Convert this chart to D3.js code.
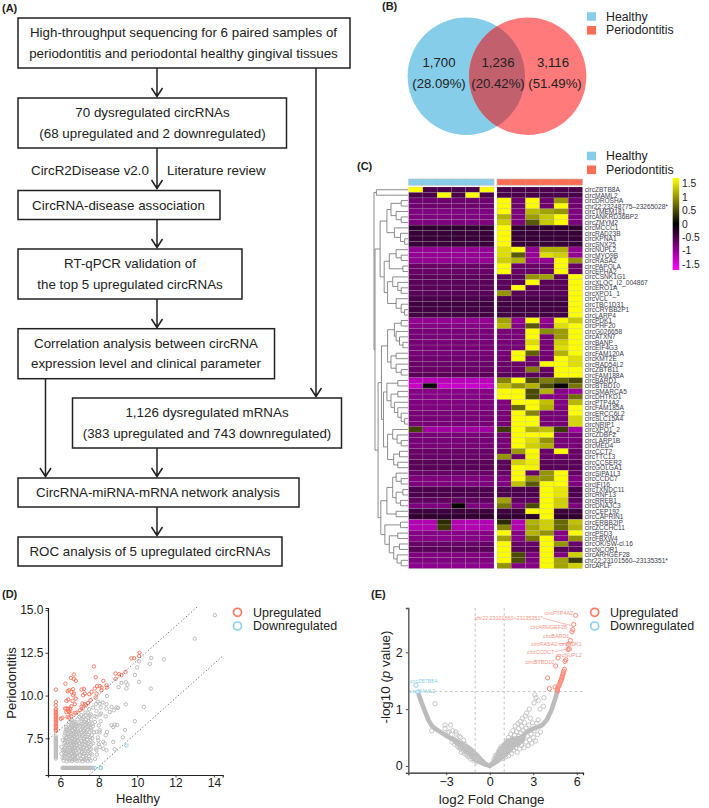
<!DOCTYPE html>
<html><head><meta charset="utf-8">
<script src="https://cdn.jsdelivr.net/npm/d3@7"></script>
<style>html,body{margin:0;padding:0;background:#fff}svg{display:block}text{font-family:"Liberation Sans",Arial,sans-serif}</style>
</head><body><svg id="c" width="709" height="808"></svg>
<script>
// ---------- DATA ----------
const flowTexts = [
 ["High-throughput sequencing for 6 paired samples of","periodontitis and periodontal healthy gingival tissues"],
 ["70 dysregulated circRNAs","(68 upregulated and 2 downregulated)"],
 ["CircRNA-disease association"],
 ["RT-qPCR validation of","the top 5 upregulated circRNAs"],
 ["Correlation analysis between circRNA","expression level and clinical parameter"],
 ["1,126 dysregulated mRNAs","(383 upregulated and 743 downregulated)"],
 ["CircRNA-miRNA-mRNA network analysis"],
 ["ROC analysis of 5 upregulated circRNAs"]];
const vennCounts = ["1,700","1,236","3,116"];
const vennShares = ["(28.09%)","(20.42%)","(51.49%)"];
const groups = ["Healthy","Periodontitis"];
const regulation = ["Upregulated","Downregulated"];
const circNames = ["circZBTB8A","circMAML2","circDROSHA","chr22:23248775\u201323265028*","circTMEM181","circANKRD36BP2","circZMYM2","circMCCC1","circRAD23B","circKPNA1","circSNX25","circNUPL2","circMYO9B","circRASA2","circPAPOLA","circEPHA2","circCSNK1G1","circXLOC_I2_004867","circERO1A","circXPO1_1","circVCL","circTBC1D31","circCRYBB2P1","circLARP4","circPDK1","circPHF20","circG026658","circATXN7","circBANP","circEIF4G3","circFAM120A","circKMT2E","circRAD54L2","circZBTB11","circFAM188A","circBARD1","circBTBD10","circSMARCA5","circDHTKD1","circPTP4A2","circFAM185A","circERCC6L2","circSLC15A4","circNRIP1","circXPO1_2","circZDBF2","circLARP1B","circMED4","circCCT2","circTTC13","circCCSER2","circGOLGA1","circSIPA1L3","circCCDC7","circIFI16","circTXNDC11","circRNF13","circRREB1","circDNAJC3","circCEP192","circCAPRIN1","circERBB2IP","circZCCHC11","circPSD3","circFBXW4","circOK/SW-cl.16","circNCOR1","circARHGEF28","chr22:23101560\u201323135351*","circAPLF"];
const healthyExpr = [
[1.7,-.5,-.5,-.5,-.5,1.7],[-.5,-.5,1.7,-.5,1.7,-.5],[-.75,-.75,-.75,-.75,-.75,-.75],[-.75,-.75,-.75,-.75,-.75,-.75],[-.85,-.85,-.85,-.85,-.85,-.85],[-.85,-.85,-.85,-.85,-.85,-.85],[-.85,-.85,-.85,-.85,-.85,-.85],
[-.32,-.32,-.32,-.32,-.32,-.32],[-.38,-.38,-.38,-.38,-.38,-.38],[-.38,-.38,-.38,-.38,-.38,-.38],[-.38,-.38,-.38,-.38,-.38,-.38],
[-1,-1,-1,-1,-1,-1],[-1,-1,-1,-1,-1,-1],[-1,-1,-1,-1,-1,-1],[-.7,-.7,-.7,-.7,-.7,-.7],[-.7,-.7,-.7,-.7,-.7,-.7],
[-.62,-.62,-.62,-.62,-.62,-.62],[-.6,-.6,-.6,-.6,-.6,-.6],[-.6,-.6,-.6,-.6,-.6,-.6],[-.6,-.6,-.6,-.6,-.6,-.6],[-.5,-.5,-.5,-.5,-.5,-.5],[-.42,-.42,-.42,-.42,-.42,-.42],[-.45,-.45,-.45,-.45,-.45,-.45],[-.45,-.45,-.45,-.45,-.45,-.45],
[-1,-1,-1,-1,-1,-1],[-.9,-.9,-.9,-.9,-.9,-.9],[-.8,-.8,-.8,-.8,-.8,-.8],[-.8,-.8,-.8,-.8,-.8,-.8],[-.8,-.8,-.8,-.8,-.8,-.8],[-.8,-.8,-.8,-.8,-.8,-.8],[-.8,-.8,-.8,-.8,-.8,-.8],[-.75,-.75,-.75,-.75,-.75,-.75],[-.7,-.7,-.7,-.7,-.7,-.7],[-.7,-.7,-.7,-.7,-.7,-.7],[-.6,-.6,-.6,-.6,-.6,-.6],
[-1.25,-1.25,-1.25,-1.25,-1.25,-1.25],[-1.35,.05,-1.35,-1.35,-1.35,-1.35],[-.9,-.9,-.9,-.9,-.9,-.9],[-.9,-.9,-.9,-.9,-.9,-.9],[-.85,-.85,-.85,-.85,-.85,-.85],[-.85,-.85,-.85,-.85,-.85,-.85],[-.8,-.8,-.8,-.8,-.8,-.8],[-.8,-.8,-.8,-.8,-.8,-.8],[-.8,-.8,-.8,-.8,-.8,-.8],
[.45,-1.1,-1.1,-1.1,-1.1,-1.1],[-.8,-.8,-.8,-.8,-.8,-.8],[-.8,-.8,-.8,-.8,-.8,-.8],[-.8,-.8,-.8,-.8,-.8,-.8],[-.7,-.7,-.7,-.7,-.7,-.7],[-.7,-.7,-.7,-.7,-.7,-.7],[-.6,-.6,-.6,-.6,-.6,-.6],[-.6,-.6,-.6,-.6,-.6,-.6],
[-.7,-.7,-.7,-.7,-.7,-.7],[-.85,-.85,-.85,-.85,-.85,-.85],[-.85,-.85,-.85,-.85,-.85,-.85],[-.52,-.52,-.52,-.52,-.52,-.52],[-.52,-.52,-.52,-.52,-.52,-.52],[-.65,-.65,-.65,-.65,-.65,-.65],[-.85,-.85,-.85,.02,-.85,-.85],[-.42,-.42,-.42,-.42,-.42,-.42],[-.32,-.32,-.32,-.32,-.32,-.32],
[-1.2,-1.2,.3,-1.2,-1.2,-1.2],[-1.2,-1.2,.4,-1.2,-1.2,-1.2],[-.9,-.9,-.9,-.9,-.9,-.9],[-.9,-.9,-.9,-.9,-.9,-.9],[-.7,-.7,-.7,-.7,-.7,-.7],[-.6,-.6,-.6,-.6,-.6,-.6],[-.85,-.85,-.85,-.85,-.85,-.85],[-.85,-.85,-.85,-.85,-.85,-.85],[-.95,-.95,-.95,-.95,-.95,-.95]];
const periodontitisExpr = [
[-.5,-.5,-.5,-.5,-.5,-.5],[-.5,-.5,-.5,-.5,-.5,-.5],[1.7,-.75,1.7,-.75,1.05,-.75],[1.7,-.75,1.7,-.75,1.7,-.75],[1.7,-.85,1.25,1.1,1.0,-.85],[1.2,-.85,1.05,1.35,1.7,-.85],[1.4,-.85,.6,1.35,1.7,-.85],
[1.7,-.32,-.32,-.32,-.32,-.32],[1.7,-.38,-.38,-.38,-.38,-.38],[1.7,-.38,-.38,-.38,-.38,-.38],[1.7,-.38,-.38,-.38,-.38,-.38],
[1.5,1.7,-1,1.2,1.2,-1],[1.5,.6,-1,1.5,1.4,-1],[1.4,1.2,-1,-1,1.7,1.0],[1.7,-.7,-.7,-.7,1.7,-.7],[1.7,-.7,-.7,-.7,1.7,-.7],
[-.62,-.62,1.0,1.1,-.62,1.7],[-.6,-.6,1.7,-.6,-.6,1.7],[-.6,1.7,-.6,-.6,-.6,1.7],[1.0,-.6,-.6,-.6,-.6,1.7],[-.5,-.5,-.5,-.5,-.5,1.7],[-.42,-.42,-.42,-.42,-.42,1.7],[-.45,-.45,-.45,-.45,-.45,1.7],[-.45,-.45,-.45,-.45,-.45,1.7],
[1.1,-1,1.7,-1,1.65,1.35],[1.25,-.9,.6,-.9,1.5,1.7],[-.8,-.8,1.7,.95,1.05,1.7],[-.8,-.8,1.7,-.8,1.05,1.7],[-.8,-.8,1.5,-.8,1.4,1.7],[-.8,-.8,1.7,-.8,1.5,1.7],[-.8,1.7,.65,-.8,1.2,1.7],[-.75,1.7,-.75,-.75,1.7,1.5],[-.7,-.7,-.7,1.7,1.7,1.5],[-.7,-.7,.85,-.7,1.7,1.7],[-.6,-.6,-.6,-.6,1.7,1.7],
[.9,1.7,.5,.85,.7,.5],[1.3,1.0,1.2,.5,.05,.8],[1.7,1.7,.5,1.2,-.9,-1.05],[1.7,1.7,.5,-.9,-.9,.75],[-.85,1.7,1.7,1.3,-.85,1.25],[-.85,.7,1.7,1.2,-.85,1.7],[-.8,1.7,.9,-.8,-.8,1.7],[-.8,1.7,1.7,-.8,-.8,1.45],[-.8,1.7,1.7,-.8,-.8,1.45],
[.4,1.7,1.2,1.3,.4,-1.1],[-.8,1.7,1.7,1.7,-.8,-.8],[-.8,1.7,1.5,1.0,-.8,-.8],[-.8,1.7,1.4,1.2,-.8,-.8],[-.7,1.05,1.7,-.7,1.7,-.7],[1.0,-.7,1.65,-.7,-.7,-.7],[-.6,1.4,1.6,-.6,-.6,-.6],[-.6,1.7,1.65,-.6,-.6,-.6],
[-.7,1.7,-.7,1.0,1.7,-.7],[-.85,1.7,1.0,1.0,1.7,-.85],[-.85,1.3,.6,1.7,1.7,-.85],[-.52,-.52,-.52,1.7,1.55,-.52],[-.52,-.52,-.52,1.7,1.55,-.52],[1.1,-.65,-.65,1.7,1.4,-.65],[.8,-.85,.5,1.7,1.4,-.85],[-.42,-.42,1.7,1.7,-.42,-.42],[-.32,-.32,-.32,1.7,-.32,-.32],
[.3,-1.2,1.2,1.4,.7,1.3],[.9,-1.2,1.1,1.4,.7,1.2],[1.7,-.9,1.2,1.0,-.9,1.7],[1.1,-.9,.8,1.7,-.9,1.0],[1.7,-.7,-.7,1.7,1.0,-.7],[1.7,-.6,-.6,1.7,-.6,-.6],[1.7,.5,-.85,1.7,-.85,1.4],[1.7,.5,-.85,1.7,1.1,.4],[1.0,-.9,-.9,1.7,1.1,1.4]];
// row clustering: [merge height, child, child]; a number is a row index
const clusterA=[.5,[.2,2,3],[.35,4,[.2,5,6]]];
const clusterB=[.4,7,[.22,8,[.1,9,10]]];
const clusterC=[.55,[.35,11,[.2,12,13]],[.15,14,15]];
const clusterD=[.6,[.45,16,[.3,17,[.2,18,19]]],[.35,20,[.2,21,[.1,22,23]]]];
const clusterE=[.6,[.4,[.2,24,25],[.35,26,[.25,27,[.15,28,29]]]],[.5,[.35,30,31],[.35,32,[.2,33,34]]]];
const clusterF=[.3,35,36];
const clusterG=[.5,[.3,37,38],[.4,39,[.3,40,[.2,41,[.1,42,43]]]]];
const clusterH=[.45,44,[.32,45,[.2,46,47]]];
const clusterI=[.42,[.25,48,49],[.3,50,51]];
const clusterJ=[.35,52,[.2,53,54]];
const clusterK=[.35,[.15,55,56],[.22,57,58]];
const clusterL=[.35,59,60];
const clusterM=[.22,61,62];
const clusterN=[.55,[.3,63,64],[.42,[.25,65,66],[.32,67,[.2,68,69]]]];
const upperTree=[.82,[.62,clusterA,clusterB],[.7,clusterC,clusterD]];
const lowerTree=[.88,[.78,clusterE,[.72,[.62,clusterF,clusterG],[.6,clusterH,clusterI]]],[.8,[.62,[.45,clusterJ,clusterK],clusterL],[.68,clusterM,clusterN]]];
const rowTree=[1,[.93,0,1],[.97,upperTree,lowerTree]];
const colorTicks = [1.5,1,0.5,0,-0.5,-1,-1.5];
// panel D: healthy vs periodontitis expression
const dUp = [[5.76,10.35],[5.76,9.63],[5.76,9.43],[6.26,10.7],[6.54,11.03],[6.7,11.23],[6.7,10.96],[6.8,10.86],[7.74,11.7],[7.84,11.07],[6.38,10.25],[6.45,10.31],[6.57,10.21],[6.66,10.37],[7.1,10.35],[7.22,10.39],[6.66,10.02],[6.7,10.12],[6.31,9.69],[6.4,9.77],[6.63,9.69],[6.8,9.82],[6.75,9.49],[6.57,9.38],[6.24,9.24],[6.31,9.24],[6.4,9.24],[6.49,9.24],[6.4,9.1],[6.52,9.18],[6.31,9.04],[6.45,9.04],[6.52,8.95],[6.37,8.75],[6.45,8.71],[6.57,8.79],[6.75,8.99],[6.83,8.99],[6.02,8.64],[6.1,8.69],[7.15,9.53],[7.27,9.49],[7.18,10.02],[7.27,10.12],[7.5,10.08],[7.62,10.21],[7.79,10.41],[7.91,10.55],[8.05,10.55],[8.23,10.86],[8.4,10.6],[8.43,10.47],[8.14,10.31],[7.88,10.12],[7.83,9.88],[7.57,9.73],[7.44,9.57],[7.32,9.43],[7.1,9.34],[7.01,9.14],[7.15,9.24],[8.14,10.47],[8.87,11.29],[9.06,11.25],[9.18,11.19],[9.39,11.38],[8.87,10.97],[9.7,12.18],[9.84,12.18],[10.1,12.32],[10.12,12.5],
[5.76,9.2],[5.76,9.12],[5.76,9.04],[5.76,8.96],[5.76,8.88],[5.76,8.8],[5.76,8.72],[5.76,8.64],[5.76,8.56],[5.76,8.48],[5.76,8.4],[5.76,8.32],[5.76,8.24],[5.76,8.16],[5.76,8.08],[5.76,8.0],[5.76,7.92]];
const dDown = [[7.79,5.77],[8.09,5.77],[8.11,5.77],[9.44,7.08]];
const dNone = [[14.05,14.7],[13,13.33],[11.39,12.12],[10.73,12.2],[10.66,11.85],[10.1,12],[10,11.64],[9.88,11.2],[10.09,10.8],[10.71,10.41],[9.44,10.41],[9.5,10.64],[9.41,10.78],[9.18,10.74],[9.03,10.49],[10.35,9.34],[9.41,9.49],[9.88,8.5],[9.36,7.99],[9.25,7.56],[8.75,7.29],[8.83,6.86],
[8.43,9.98],[8.4,9.49],[8.05,9.53],[8.66,9.34],[8.92,9.3],[9,9.28],[8.4,9.24],[8.57,9.04],[8.78,9.14],[8.36,8.79],[8.05,8.89],[7.88,8.75],[8.66,8.27],[8.83,8.3],[8.96,8.28],[8.75,8.16],[8.43,7.87],[8.36,7.68],[8.05,7.97],[7.88,7.87],[7.97,7.38],[8.23,7.29],[8.31,7.19],[8.05,6.99],[7.88,6.8],[8.4,6.8],[8.23,6.89],
[6.17,6.2],[6.22,6.45],[6.18,6.7],[6.24,6.95],[6.2,7.2],[6.26,7.4],[6.21,7.65],[6.27,7.9],[6.3,8.15],[6.33,6.15],[6.36,6.38],[6.31,6.6],[6.37,6.82],[6.33,7.07],[6.38,7.3],[6.34,7.52],[6.4,7.75],[6.36,8],[6.42,8.25],[6.46,8.45],[6.47,6.2],[6.5,6.5],[6.45,6.72],[6.52,6.93],[6.47,7.15],[6.53,7.38],[6.49,7.6],[6.54,7.85],[6.5,8.1],[6.56,8.35],[6.6,8.55],[6.6,6.17],[6.63,6.4],[6.58,6.62],[6.65,6.85],[6.6,7.05],[6.66,7.28],[6.61,7.5],[6.67,7.72],[6.63,7.95],[6.68,8.2],[6.72,8.45],[6.73,6.22],[6.76,6.48],[6.71,6.7],[6.78,6.95],[6.73,7.18],[6.79,7.42],[6.74,7.63],[6.8,7.87],[6.76,8.1],[6.82,8.35],[6.85,6.18],[6.88,6.42],[6.84,6.65],[6.9,6.9],[6.86,7.12],[6.91,7.35],[6.87,7.58],[6.93,7.8],[6.88,8.05],[6.94,8.3],[6.9,8.6],[6.98,8.75],
[7,6.2],[7.02,6.52],[6.98,6.78],[7.04,7],[6.99,7.25],[7.05,7.5],[7,7.75],[7.07,8],[7.02,8.25],[7.1,8.5],[7.08,8.85],[7.14,6.15],[7.18,6.42],[7.12,6.7],[7.2,6.95],[7.15,7.2],[7.22,7.45],[7.16,7.7],[7.24,7.95],[7.18,8.2],[7.26,8.45],[7.2,8.75],[7.3,9],[7.28,6.22],[7.33,6.5],[7.28,6.78],[7.36,7.05],[7.3,7.3],[7.38,7.6],[7.32,7.88],[7.4,8.15],[7.36,8.4],[7.45,8.7],[7.42,9],[7.5,9.2],[7.42,6.18],[7.48,6.45],[7.44,6.75],[7.52,7],[7.46,7.25],[7.55,7.55],[7.5,7.85],[7.58,8.1],[7.52,8.35],[7.6,8.6],[7.58,8.9],[7.7,9.3],[7.58,6.2],[7.65,6.55],[7.6,6.85],[7.7,7.2],[7.66,7.5],[7.75,7.85],[7.7,8.2],[7.8,8.45],[7.78,8.8],[7.88,9.1],[7.85,9.5],[7.95,9.65],[7.8,6.3],[7.9,6.55],[7.85,6.9],[8,7.15],[7.95,7.55],[8.05,7.85],[8,8.25],[8.1,8.5],[8.12,8.95],[8.1,9.3],[8.2,9.6],
[6.2,6.33],[6.25,6.58],[6.2,6.83],[6.27,7.08],[6.23,7.3],[6.29,7.53],[6.24,7.78],[6.3,8.02],[6.4,6.27],[6.43,6.5],[6.38,6.71],[6.44,6.94],[6.4,7.18],[6.45,7.41],[6.41,7.63],[6.47,7.87],[6.43,8.12],[6.54,6.3],[6.57,6.56],[6.52,6.78],[6.58,7],[6.54,7.26],[6.6,7.49],[6.56,7.72],[6.6,7.98],[6.57,8.22],[6.63,8.45],[6.66,6.28],[6.7,6.55],[6.65,6.75],[6.72,7],[6.67,7.15],[6.72,7.37],[6.68,7.6],[6.73,7.83],[6.69,8.08],[6.75,8.3],[6.8,6.3],[6.83,6.55],[6.78,6.8],[6.84,7.05],[6.8,7.27],[6.85,7.5],[6.81,7.73],[6.87,7.95],[6.83,8.2],
[7.07,6.3],[7.1,6.6],[7.06,6.88],[7.11,7.12],[7.07,7.35],[7.12,7.6],[7.08,7.85],[7.14,8.1],[7.1,8.35],[7.15,8.62],[7.21,6.28],[7.25,6.58],[7.2,6.83],[7.27,7.1],[7.23,7.33],[7.29,7.58],[7.24,7.82],[7.3,8.08],[7.27,8.32],[7.33,8.58],[7.3,8.85],[7.35,6.3],[7.4,6.62],[7.36,6.9],[7.43,7.17],[7.38,7.42],[7.45,7.72],[7.41,8],[7.48,8.25],[7.45,8.52],[7.52,8.82],[7.5,6.3],[7.56,6.62],[7.52,6.85],[7.6,7.12],[7.56,7.4],[7.63,7.7],[7.6,8],[7.67,8.35],
[5.76,7.6],[5.76,7.52],[5.76,7.44],[5.76,7.36],[5.76,7.28],[5.76,7.2],[5.76,7.12],[5.76,7.04],[5.76,6.96],[5.76,6.88],[5.76,6.8],[5.76,6.72],[5.76,6.64],[5.76,6.56],[5.76,6.48],[5.76,6.4],[5.76,6.32],[6.05,6.6],[6.05,7],[6.12,6.8],[6.1,6.35],[6.12,7.4],
[6.1,5.77],[6.15,5.77],[6.2,5.77],[6.25,5.77],[6.3,5.77],[6.35,5.77],[6.4,5.77],[6.45,5.77],[6.5,5.77],[6.55,5.77],[6.6,5.77],[6.65,5.77],[6.7,5.77],[6.75,5.77],[6.8,5.77],[6.85,5.77],[6.9,5.77],[6.95,5.77],[7,5.77],[7.05,5.77],[7.1,5.77],[7.15,5.77],[7.2,5.77],[7.25,5.77],[7.3,5.77],[7.35,5.77],[7.4,5.77],[7.45,5.77],[7.5,5.77],[7.55,5.77],[7.6,5.77],[7.68,5.77]];
const dGuides = [[[5.4,7.45],[13.2,15.25]],[[7.5,5.35],[14.5,12.35]]];
const dXTicks = [6,8,10,12,14];
const dYTicks = [7.5,10,12.5,15];
// panel E: volcano
const eUp = [[5.93,2.65],[5.79,2.49],[5.72,2.4],[5.67,2.36],[5.56,2.21],[5.42,2.14],[5.49,2.06],[5.4,2.05],[4.71,1.9],[4.55,1.76],[5.24,1.87],[5.19,1.84],[3.99,1.55],[4.11,1.36],[4.5,1.39],[5.15,1.7],[5.1,1.67],[5.08,1.64],[5.04,1.61],[5.01,1.58],[4.98,1.56],[4.96,1.53],[4.92,1.51],[4.89,1.49],[4.85,1.46],[4.8,1.43],[4.76,1.41],[4.72,1.39],[4.69,1.37],[4.65,1.34],[4.68,1.32]];
const eDown = [[-5.08,1.42],[-4.95,1.3]];
const eRibbonLeft = [[-4.88,1.25],[-4.69,1.11],[-4.46,.96],[-4.23,.81],[-4.05,.73],[-3.93,.69],[-3.65,.64],[-3.2,.565],[-2.9,.52],[-2.51,.46],[-2.15,.4],[-1.82,.34],[-1.4,.24],[-1.01,.15],[-.5,.06],[0,0]];
const eRibbonRight = [[0,0],[.6,.15],[1.05,.28],[1.5,.37],[1.86,.43],[2.3,.53],[2.55,.6],[3.05,.66],[3.58,.71],[3.93,.81],[4.27,.99],[4.5,1.17],[4.66,1.31]];
const eMassLeft = [[-.1,0],[-.8,.2],[-1.4,.34],[-2,.42],[-2.5,.5],[-2.4,.4],[-1.7,.24],[-1,.08],[-.3,0]];
const eMassRight = [[.1,0],[.6,.28],[1.2,.46],[1.7,.5],[2.2,.52],[2.5,.6],[2.3,.42],[1.7,.33],[1,.15],[.3,.02]];
const eNone = [[.3,.12],[.4,.18],[.5,.08],[.5,.2],[.6,.25],[.7,.12],[.7,.3],[.8,.18],[.8,.34],[.9,.28],[.9,.13],[1,.2],[1,.38],[1.1,.3],[1.1,.16],[1.15,.44],[1.2,.24],[1.25,.36],[1.3,.18],[1.3,.5],[1.4,.28],[1.4,.42],[1.45,.56],[1.5,.22],[1.5,.34],[1.55,.48],[1.6,.62],[1.65,.28],[1.65,.4],[1.7,.54],[1.75,.7],[1.8,.32],[1.8,.46],[1.85,.6],[1.9,.24],[1.95,.38],[1.95,.75],[2,.52],[2,.66],[2.05,.3],[2.1,.44],[2.1,.78],[2.15,.58],[2.2,.36],[2.2,.7],[2.25,.84],[2.3,.48],[2.3,.62],[2.35,.32],[2.4,.76],[2.45,.88],[2.5,.42],[2.5,.66],[2.55,.93],[2.6,.52],[2.65,.36],[2.7,.72],[2.73,1],[2.75,.46],[2.8,.84],[2.85,.56],[2.9,.4],[2.95,.76],[3,.5],[3.05,.62],[3.05,1.11],[3.12,1.25],[3.19,1.2],[3.24,.75],[3.15,.44],[3.3,.55],[3.35,.81],[3.35,1.15],[3.47,1],[3.5,.6],[3.7,1.05],[3.74,1.2],
[-3.08,.72],[-2.69,.72],[-3.08,.66],[-2.55,.62],[-2.8,.6],[-2.3,.56],[-2.1,.52],[-2,.5],[-1.8,.45],[-2.4,.38],[-2.2,.34],[-2,.3],[-1.9,.4],[-1.8,.26],[-1.7,.38],[-1.6,.34],[-1.6,.2],[-1.5,.3],[-1.4,.16],[-1.4,.3],[-1.3,.12],[-1.2,.26],[-1.1,.1],[-1,.2],[-.9,.07],[-.85,.17],[-.7,.13],[-.6,.1],[-.45,.07],[-4,.62],[-2.35,.6],[-2.9,.58],[-2.6,.42],[-2.1,.32],[-1.95,.24],[-1.75,.22],[-1.5,.17],[-1.25,.16],[-3.77,1.095]];
const eXTicks = [-3,0,3,6];
const eYTicks = [0,1,2];
const eCutX = [-1,1];
const eCutY = [1.31];
const eUpNames = ["circPTP4A2","chr22:23101560\u201323135351*","circARHGEF28","circBARD1","circRASA2","circPDK1","circCCDC7","circNUPL2","circBTBD10"];
const eDownNames = ["circZBTB8A","circMAML2"];

// ---------- DRAW ----------
const svg = d3.select("#c");
const defs=svg.append("defs");
const BLUE="#87ceeb", RED="#ff6e54", INK="#222";
const txt=(g,x,y,s,size,anchor="start",fill=INK,extra={})=>{const t=g.append("text").attr("x",x).attr("y",y).attr("font-size",size).attr("text-anchor",anchor).attr("fill",fill).attr("dominant-baseline","central").text(s);for(const k in extra)t.attr(k,extra[k]);return t;};
// panel labels
[["(A)",2,8],["(B)",382,6],["(C)",357,166],["(D)",2,594],["(E)",371,594]].forEach(d=>txt(svg,d[1],d[2],d[0],11,"start","#222",{"font-weight":"bold"}));

// ---- A: flowchart
const A=svg.append("g");
const boxes=[[18,18,350,68],[18,98,286.5,148],[18,190.5,220,219.5],[18,249,242,299],[18,328.7,274.5,378.7],[72.5,398,341.5,448],[18,478,299,507],[18,537,282,566]];
const textCx=[183.5,152.5,118.5,130,146,207,158,150];
boxes.forEach((b,i)=>{
  A.append("rect").attr("x",b[0]).attr("y",b[1]).attr("width",b[2]-b[0]).attr("height",b[3]-b[1]).attr("fill","#fff").attr("stroke",INK).attr("stroke-width",1.5);
  const ls=flowTexts[i], cy=(b[1]+b[3])/2;
  ls.forEach((l,j)=>txt(A,textCx[i],cy+(j-(ls.length-1)/2)*20.3,l,13.35,"middle"));
});
const arrows=[[157,68,97],[157,148,189],[157,219.5,248],[157,299,328],[45.5,378.7,477],[157,448,477],[157,507,536],[316,68,397]];
arrows.forEach(a=>{
  A.append("path").attr("d",`M${a[0]},${a[1]}V${a[2]}M${a[0]-5.5},${a[2]-9}L${a[0]},${a[2]-.5}L${a[0]+5.5},${a[2]-9}`).attr("fill","none").attr("stroke",INK).attr("stroke-width",1.5);
});
txt(A,31,170,"CircR2Disease v2.0",13.35);
txt(A,167,170,"Literature review",13.35);

// ---- B: venn
const B=svg.append("g");
const vx=[466.3,527.7], vy=76.3, vr=58.7;
defs.append("clipPath").attr("id","vl").append("circle").attr("cx",vx[0]).attr("cy",vy).attr("r",vr);
B.append("circle").attr("cx",vx[0]).attr("cy",vy).attr("r",vr).attr("fill","#85cde9");
B.append("circle").attr("cx",vx[1]).attr("cy",vy).attr("r",vr).attr("fill","#ff7b7b");
B.append("circle").attr("cx",vx[1]).attr("cy",vy).attr("r",vr).attr("fill","#c2606e").attr("clip-path","url(#vl)");
const vc=[439,498,553], vc2=[439,498,555];
vennCounts.forEach((s,i)=>txt(B,vc[i],62.5,s,13.2,"middle"));
vennShares.forEach((s,i)=>txt(B,vc2[i],83,s,13.2,"middle"));
const squareLegend=(y0)=>{groups.forEach((g,i)=>{
  svg.append("rect").attr("x",587).attr("y",y0+i*13.8-4.3).attr("width",9).attr("height",8.6).attr("fill",i?RED:BLUE);
  txt(svg,606,y0+i*13.8,g,12.3,"start","#222");
});};
squareLegend(16.5); squareLegend(156);

// ---- C: heatmap
const C=svg.append("g");
const rowY=d3.scaleBand().domain(d3.range(circNames.length)).range([187,568.5]);
const colL=d3.scaleBand().domain(d3.range(6)).range([408.7,494]);
const colR=d3.scaleBand().domain(d3.range(6)).range([497,582.5]);
const heat=d3.scaleLinear().domain([-1.72,0,1.72]).range(["#ff00ff","#000000","#ffff00"]).clamp(true);
[[healthyExpr,colL,BLUE],[periodontitisExpr,colR,RED]].forEach(([m,col,c])=>{
  C.append("rect").attr("x",col.range()[0]).attr("y",179).attr("width",col.range()[1]-col.range()[0]).attr("height",6.2).attr("fill",c).attr("stroke","#bbb").attr("stroke-width",.6);
  d3.range(1,6).forEach(i=>C.append("line").attr("x1",col(i)).attr("x2",col(i)).attr("y1",179).attr("y2",185.2).attr("stroke","#9bb").attr("stroke-width",.3));
  m.forEach((r,i)=>r.forEach((v,j)=>{
    C.append("rect").attr("x",col(j)).attr("y",rowY(i)).attr("width",col.bandwidth()).attr("height",rowY.bandwidth()).attr("fill",heat(v)).attr("stroke","#a6a6a6").attr("stroke-opacity",.42).attr("stroke-width",.45);
  }));
});
circNames.forEach((n,i)=>txt(C,584.7,rowY(i)+rowY.bandwidth()/2,n,6.6,"start","#3b3b4d"));
const treeX=d3.scaleLinear().domain([0,1]).range([408,374]);
const root=d3.hierarchy(rowTree,d=>Array.isArray(d)?d.slice(1):null);
root.eachAfter(n=>{
  if(!n.children){n.py=rowY(n.data)+rowY.bandwidth()/2;n.px=treeX(0);}
  else{n.py=d3.mean(n.children,c=>c.py);n.px=treeX(n.data[0]);
    n.children.forEach(c=>C.append("path").attr("d",`M${c.px},${c.py}H${n.px}V${n.py}`).attr("fill","none").attr("stroke","#707070").attr("stroke-width",.8));}
});
const cbarY=d3.scaleLinear().domain([1.72,-1.72]).range([178,270]);
const lg=defs.append("linearGradient").attr("id","cbar").attr("x1",0).attr("x2",0).attr("y1",0).attr("y2",1);
[0,.25,.5,.75,1].forEach(o=>lg.append("stop").attr("offset",o).attr("stop-color",heat(1.72-3.44*o)));
C.append("rect").attr("x",672.7).attr("y",178).attr("width",6.5).attr("height",92).attr("fill","url(#cbar)");
colorTicks.forEach(t=>txt(C,682,cbarY(t),String(t),10.3,"start","#222"));

// ---- D: scatter
const D=svg.append("g");
const dx=d3.scaleLinear().domain([5.35,14.46]).range([48,222.7]);
const dy=d3.scaleLinear().domain([5.354,15.12]).range([775,608]);
const points=(g,data,x,y,color,r,w)=>g.append("g").selectAll("circle").data(data).join("circle").attr("cx",d=>x(d[0])).attr("cy",d=>y(d[1])).attr("r",r).attr("fill","none").attr("stroke",color).attr("stroke-width",w);
points(D,dNone,dx,dy,"#bcbcbc",1.7,1);
points(D,dUp,dx,dy,"#fa7a64",1.7,1);
points(D,dDown,dx,dy,"#8fd0ea",1.7,1);
dGuides.forEach(l=>D.append("line").attr("x1",dx(l[0][0])).attr("y1",dy(l[0][1])).attr("x2",dx(l[1][0])).attr("y2",dy(l[1][1])).attr("stroke","#555").attr("stroke-width",.9).attr("stroke-dasharray","1.2,2.2"));
const styleAxis=(g,fs)=>{g.selectAll("path.domain").attr("stroke","#222").attr("stroke-width",1.2);g.selectAll(".tick line").attr("stroke","#333").attr("stroke-width",.9);g.selectAll("text").attr("font-size",fs).attr("fill","#222").style("font-family",'"Liberation Sans",Arial,sans-serif');};
const dax=D.append("g").attr("transform","translate(0,775)").call(d3.axisBottom(dx).tickValues(dXTicks).tickFormat(d3.format("d")).tickSize(2.5).tickPadding(1));
styleAxis(dax,12);
const day=D.append("g").attr("transform","translate(48,0)").call(d3.axisLeft(dy).tickValues(dYTicks).tickFormat(d3.format(".1f")).tickSize(2.5).tickPadding(2));
styleAxis(day,12);
txt(D,138,798,"Healthy",13,"middle");
txt(D,0,0,"Periodontitis",13,"middle",INK,{transform:"translate(11,683) rotate(-90)"});
const circLegend=(cx,tx)=>{regulation.forEach((s,i)=>{
  svg.append("circle").attr("cx",cx).attr("cy",612.3+i*13.7).attr("r",4).attr("fill","none").attr("stroke",i?"#8fd0ea":"#fa7a64").attr("stroke-width",1.7);
  txt(svg,tx,612.8+i*13.2,s,12.5,"start","#222");
});};
circLegend(237.5,253);

// ---- E: volcano
const E=svg.append("g");
const ex=d3.scaleLinear().domain([-5.61,6.43]).range([408.3,583]);
const ey=d3.scaleLinear().domain([-.119,2.78]).range([772.7,608]);
eCutX.forEach(v=>E.append("line").attr("x1",ex(v)).attr("x2",ex(v)).attr("y1",608).attr("y2",772).attr("stroke","#c8c8c8").attr("stroke-width",1.1).attr("stroke-dasharray","2.6,2.6"));
eCutY.forEach(v=>E.append("line").attr("x1",408.3).attr("x2",583).attr("y1",ey(v)).attr("y2",ey(v)).attr("stroke","#c8c8c8").attr("stroke-width",1.1).attr("stroke-dasharray","2.6,2.6"));
const eLine=d3.line().x(d=>ex(d[0])).y(d=>ey(d[1])).curve(d3.curveMonotoneX);
const ePoly=d3.line().x(d=>ex(d[0])).y(d=>ey(d[1])).curve(d3.curveLinearClosed);
[eMassLeft,eMassRight].forEach(m=>E.append("path").attr("d",ePoly(m)).attr("fill","#bcbcbc").attr("stroke","#bcbcbc").attr("stroke-width",2));
[eRibbonLeft,eRibbonRight].forEach(r=>E.append("path").attr("d",d3.line().x(d=>ex(d[0])).y(d=>ey(d[1]))(r)).attr("fill","none").attr("stroke","#bcbcbc").attr("stroke-width",4.6).attr("stroke-linecap","round").attr("stroke-linejoin","round"));
points(E,eNone,ex,ey,"#c2c2c2",2.2,.9);
points(E,eUp,ex,ey,"#fa8a78",2.1,1);
points(E,eDown,ex,ey,"#8fd0ea",2.1,.9);
const upLabelAt=[[573,613],[542.7,618.3],[567,626.7],[569.3,636],[557.3,644],[581.7,644],[554,652.3],[581.7,655],[554.3,661.7]];
eUpNames.forEach((n,i)=>txt(E,upLabelAt[i][0],upLabelAt[i][1],n,5.4,"end","#f8927f"));
const downLabelAt=[[410,680.7],[409.3,691.3]];
eDownNames.forEach((n,i)=>txt(E,downLabelAt[i][0],downLabelAt[i][1],n,5.2,"start","#8fd0ea"));
[[543,618.3,571.7,625.7],[557.5,644,574,642.5],[554.5,652,571,648]].forEach(s=>E.append("line").attr("x1",s[0]).attr("y1",s[1]).attr("x2",s[2]).attr("y2",s[3]).attr("stroke","#f8927f").attr("stroke-width",.6));
const eax=E.append("g").attr("transform","translate(0,772.7)").call(d3.axisBottom(ex).tickValues(eXTicks).tickFormat(d3.format("d")).tickSize(2.5).tickPadding(1.5));
styleAxis(eax,12.5);
const eay=E.append("g").attr("transform","translate(408.3,0)").call(d3.axisLeft(ey).tickValues(eYTicks).tickFormat(d3.format("d")).tickSize(2.5).tickPadding(3));
styleAxis(eay,12.5);
eay.select("path.domain").attr("stroke","#555").attr("stroke-width",1.4);
txt(E,491.7,799,"log2 Fold Change",13.4,"middle");
const yl=txt(E,0,0,"",13.4,"middle",INK,{transform:"translate(385,677) rotate(-90)"});
yl.append("tspan").text("-log10 (");yl.append("tspan").attr("font-style","italic").text("p");yl.append("tspan").text(" value)");
circLegend(594.7,610);
</script></body></html>
